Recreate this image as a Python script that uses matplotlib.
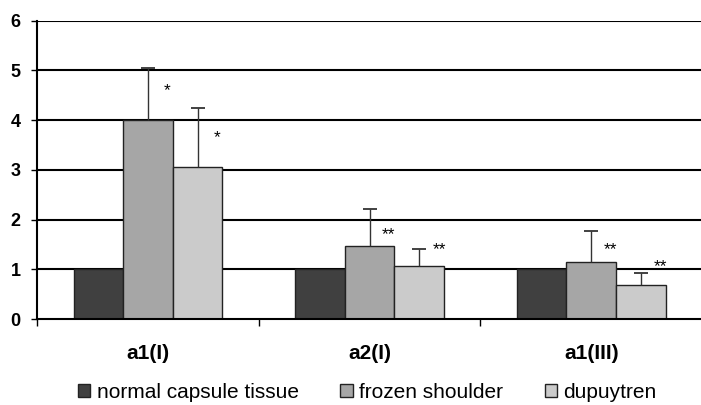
import numpy as np
import matplotlib
matplotlib.use('Agg')
import matplotlib.pyplot as plt

plt.rcParams['font.family'] = ['Liberation Sans', 'DejaVu Sans']

# data
groups = ['a1(I)', 'a2(I)', 'a1(III)']
series = ['normal capsule tissue', 'frozen shoulder', 'dupuytren']
normal = [1.0, 1.0, 1.0]
frozen = [4.0, 1.47, 1.15]
dupuytren = [3.06, 1.06, 0.68]
frozen_err = [1.04, 0.74, 0.62]
dupuytren_err = [1.19, 0.35, 0.24]
frozen_stars = ['*', '**', '**']
dupuytren_stars = ['*', '**', '**']
frozen_star_y = [4.6, 1.69, 1.4]
dupuytren_star_y = [3.65, 1.4, 1.06]

colors = ['#404040', '#a6a6a6', '#cbcbcb']

fig = plt.figure(figsize=(7.01, 4.05), dpi=100)
ax = fig.add_axes([0.053, 0.212, 0.9486, 0.737])

x = np.arange(len(groups))
w = 0.224

for y in range(1, 7):
    ax.axhline(y, color='black', lw=1.5, zorder=1)

ax.bar(x - w, normal, w, color=colors[0], edgecolor='#222222', lw=1, zorder=2, label=series[0])
ax.bar(x, frozen, w, color=colors[1], edgecolor='#222222', lw=1, zorder=2, label=series[1])
ax.bar(x + w, dupuytren, w, color=colors[2], edgecolor='#222222', lw=1, zorder=2, label=series[2])

# upper-only error bars, hide the lower cap
for xs, ys, es in [(x, frozen, frozen_err), (x + w, dupuytren, dupuytren_err)]:
    eb = ax.errorbar(xs, ys, yerr=[np.zeros(3), es], fmt='none', ecolor='#333333',
                     elinewidth=1, capsize=5, capthick=1.3, zorder=3)
    eb[1][0].set_visible(False)

for i in range(len(groups)):
    ax.text(x[i] + 0.085, frozen_star_y[i], frozen_stars[i], ha='center', va='center', fontsize=12.5, zorder=4)
    ax.text(x[i] + w + 0.09, dupuytren_star_y[i], dupuytren_stars[i], ha='center', va='center', fontsize=12.5, zorder=4)

ax.set_xlim(-0.5, 2.5)
ax.set_ylim(0, 6)
ax.set_yticks(range(0, 7))
ax.set_yticklabels([str(v) for v in range(0, 7)], fontweight='bold', fontsize=13)
ax.set_xticks([-0.5, 0.5, 1.5])
ax.set_xticklabels([])
ax.set_xticks(x, minor=True)
ax.set_xticklabels(groups, minor=True, fontweight='bold', fontsize=15)
ax.tick_params(axis='x', which='minor', length=0, pad=18)
ax.tick_params(axis='x', which='major', length=5, width=1, direction='out')
ax.tick_params(axis='y', length=4, width=1, direction='out', pad=8)

for s in ['top', 'right']:
    ax.spines[s].set_visible(False)
ax.spines['left'].set_linewidth(1.5)
ax.spines['bottom'].set_linewidth(1.5)

fig.legend(loc='center', bbox_to_anchor=(0.524, 0.032), ncol=3, frameon=False,
           fontsize=15, handlelength=0.6, handleheight=0.6, handletextpad=0.3,
           columnspacing=2.0, borderpad=0)

fig.savefig('out.png', dpi=100)
